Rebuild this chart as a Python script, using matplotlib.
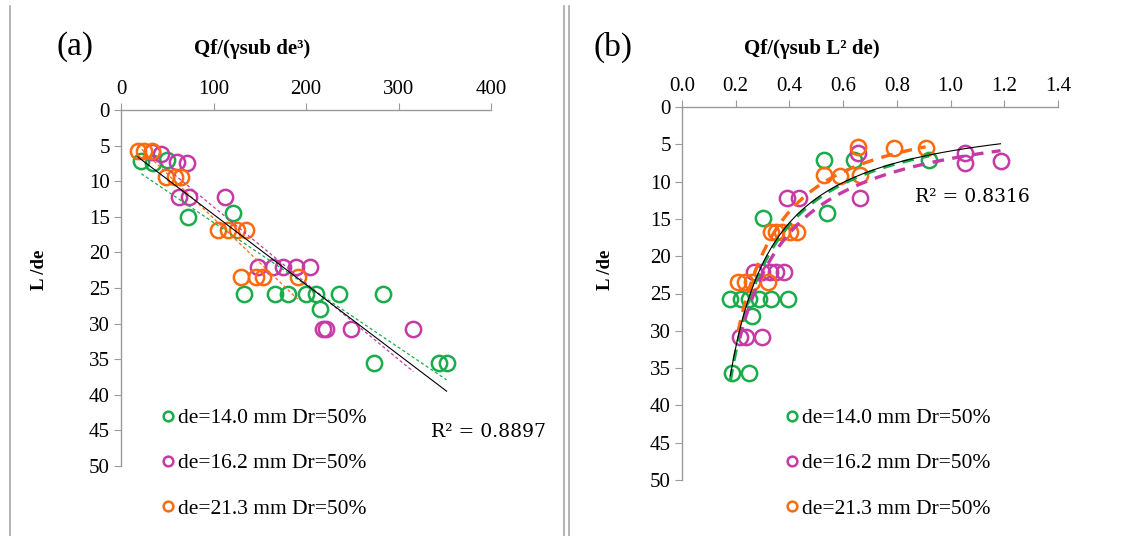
import numpy as np
import matplotlib
matplotlib.use("Agg")
import matplotlib.pyplot as plt
from matplotlib.lines import Line2D

plt.rcParams['font.family'] = ['Liberation Serif', 'DejaVu Serif']

# ---- data, panel (a): Qf/(gamma_sub de^3) vs L/de ----
a_green_x = [22, 35, 50, 72, 121, 133, 166, 180, 200, 211, 215, 236, 283, 274, 344, 352]
a_green_y = [7.2, 7.4, 7.0, 15.0, 14.4, 25.8, 25.8, 25.8, 25.8, 25.8, 27.9, 25.8, 25.8, 35.6, 35.6, 35.6]
a_mag_x = [34, 43, 61, 71, 63, 73, 112, 148, 164, 175, 189, 204, 218, 222, 249, 316]
a_mag_y = [5.9, 6.2, 7.3, 7.4, 12.2, 12.2, 12.2, 22.1, 22.1, 22.1, 22.1, 22.1, 30.8, 30.8, 30.8, 30.8]
a_org_x = [18, 25, 33, 49, 58, 65, 105, 116, 125, 135, 130, 146, 153, 191]
a_org_y = [5.7, 5.7, 5.7, 9.4, 9.4, 9.4, 16.8, 16.8, 16.8, 16.8, 23.5, 23.5, 23.5, 23.5]

# ---- data, panel (b): Qf/(gamma_sub L^2 de) vs L/de ----
b_green_x = [0.186, 0.25, 0.262, 0.18, 0.221, 0.25, 0.285, 0.331, 0.395, 0.30, 0.541, 0.529, 0.64, 0.919]
b_green_y = [35.7, 35.7, 28.0, 25.8, 25.8, 25.8, 25.8, 25.8, 25.8, 14.9, 14.2, 7.1, 7.1, 7.1]
b_mag_x = [0.215, 0.238, 0.297, 0.267, 0.297, 0.326, 0.349, 0.378, 0.39, 0.436, 0.663, 0.657, 1.052, 1.052, 1.186]
b_mag_y = [30.8, 30.8, 30.8, 22.1, 22.1, 22.1, 22.1, 22.1, 12.2, 12.2, 12.2, 6.2, 6.2, 7.5, 7.3]
b_org_x = [0.209, 0.233, 0.262, 0.32, 0.331, 0.349, 0.372, 0.401, 0.43, 0.529, 0.587, 0.663, 0.657, 0.791, 0.907]
b_org_y = [23.4, 23.4, 23.4, 23.4, 16.7, 16.7, 16.7, 16.7, 16.7, 9.1, 9.3, 9.1, 5.3, 5.5, 5.5]

labels = ['de=14.0 mm Dr=50%', 'de=16.2 mm Dr=50%', 'de=21.3 mm Dr=50%']
colors = ['#1aab4b', '#c63aa6', '#ff6a0e']
r2_a = 'R² = 0.8897'
r2_b = 'R² = 0.8316'

W, H = 1126, 536
fig = plt.figure(figsize=(W / 100, H / 100), dpi=100)


def fx(px):
    return px / W


def fy(py):
    return 1 - py / H


def style_axes(ax, xlim, xticks, xfmt):
    ax.set_xlim(*xlim)
    ax.set_ylim(50, 0)
    ax.set_xticks(xticks)
    ax.set_xticklabels([xfmt.format(t) for t in xticks])
    ax.set_yticks(np.arange(0, 51, 5))
    ax.xaxis.tick_top()
    for s in ['right', 'bottom']:
        ax.spines[s].set_visible(False)
    for s in ['left', 'top']:
        ax.spines[s].set_color('#9a9a9a')
        ax.spines[s].set_linewidth(1.0)
    ax.tick_params(axis='both', direction='out', length=5, color='#9a9a9a',
                   labelsize=15, pad=3)
    ax.patch.set_visible(False)


# panel (a)
ax1 = fig.add_axes([fx(121), fy(466), fx(491) - fx(121), fy(110) - fy(466)])
style_axes(ax1, (0, 400), [0, 100, 200, 300, 400], '{:.0f}')

sets_a = [(a_green_x, a_green_y), (a_mag_x, a_mag_y), (a_org_x, a_org_y)]
for (x, y), c in zip(sets_a, colors):
    ax1.plot(x, y, 'o', ms=11, mfc='none', mec=c, mew=1.8, clip_on=False)
for (x, y), c in zip(sets_a, colors):
    x = np.array(x, float)
    k, b = np.polyfit(x, y, 1)
    xx = np.linspace(x.min(), x.max(), 50)
    ax1.plot(xx, k * xx + b, '--', color=c, lw=0.9, dashes=(2.5, 2))
all_ax = np.concatenate([np.array(s[0], float) for s in sets_a])
all_ay = np.concatenate([np.array(s[1], float) for s in sets_a])
k, b = np.polyfit(all_ax, all_ay, 1)
xx = np.linspace(all_ax.min(), all_ax.max(), 50)
ax1.plot(xx, k * xx + b, '-', color='black', lw=0.8)

# panel (b)
ax2 = fig.add_axes([fx(682), fy(480), fx(1058) - fx(682), fy(107) - fy(480)])
style_axes(ax2, (0, 1.4), [0, 0.2, 0.4, 0.6, 0.8, 1.0, 1.2, 1.4], '{:.1f}')

sets_b = [(b_green_x, b_green_y), (b_mag_x, b_mag_y), (b_org_x, b_org_y)]
for (x, y), c in zip(sets_b, colors):
    ax2.plot(x, y, 'o', ms=11, mfc='none', mec=c, mew=1.8, clip_on=False)
for (x, y), c in zip(sets_b, colors):
    x = np.array(x, float)
    p, q = np.polyfit(np.log(x), np.log(y), 1)
    xx = np.linspace(x.min(), x.max(), 80)
    ax2.plot(xx, np.exp(q) * xx ** p, '--', color=c, lw=2.4, dashes=(3.5, 2.5))
all_bx = np.concatenate([np.array(s[0], float) for s in sets_b])
all_by = np.concatenate([np.array(s[1], float) for s in sets_b])
p, q = np.polyfit(np.log(all_bx), np.log(all_by), 1)
xx = np.linspace(all_bx.min(), all_bx.max(), 80)
ax2.plot(xx, np.exp(q) * xx ** p, '-', color='black', lw=0.8)

# legends
handles = [Line2D([], [], ls='none', marker='o', ms=7, mfc='none', mec=c, mew=1.8)
           for c in colors]
for xpx in [162, 786]:
    fig.legend(handles, labels, loc='upper left', bbox_to_anchor=(fx(xpx), fy(408)),
               frameon=False, fontsize=15.5, handlelength=0.6, handletextpad=0.15,
               labelspacing=1.17, borderaxespad=0, borderpad=0)

# R^2 labels
fig.text(fx(431), fy(432), r2_a, fontsize=13.5, family='DejaVu Serif', va='center', ha='left')
fig.text(fx(915), fy(197), r2_b, fontsize=13.5, family='DejaVu Serif', va='center', ha='left')

# axis titles and panel letters
fig.text(fx(252), fy(49), 'Qf/(γsub de³)', fontsize=15, fontweight='bold', ha='center', va='center')
fig.text(fx(812), fy(49), 'Qf/(γsub L² de)', fontsize=15, fontweight='bold', ha='center', va='center')
fig.text(fx(40), fy(270), 'L /de', fontsize=13.5, fontweight='bold', rotation=90, ha='center', va='center')
fig.text(fx(605), fy(270), 'L /de', fontsize=13.5, fontweight='bold', rotation=90, ha='center', va='center')
fig.text(fx(75), fy(47), '(a)', fontsize=24, ha='center', va='center')
fig.text(fx(613), fy(47), '(b)', fontsize=24, ha='center', va='center')

# frame lines
for xpx in [10, 564, 569]:
    fig.add_artist(Line2D([fx(xpx), fx(xpx)], [fy(6), 0], color='#a8a8a8', lw=1.2))

fig.savefig('out.png', dpi=100)
